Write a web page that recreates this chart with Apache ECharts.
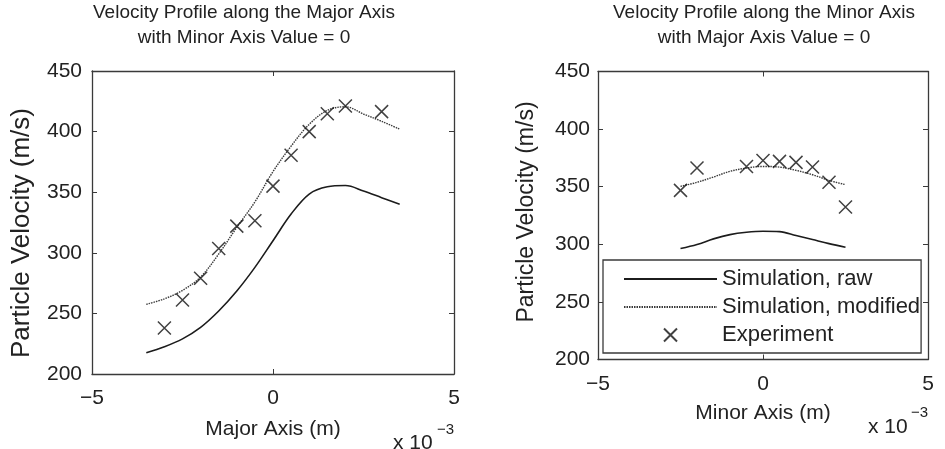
<!DOCTYPE html>
<html>
<head>
<meta charset="utf-8">
<script src="https://cdn.jsdelivr.net/npm/echarts@6/dist/echarts.min.js"></script>
<style>
  html, body { margin: 0; padding: 0; background: #fff; }
  #chart { width: 945px; height: 449px; }
</style>
</head>
<body>
<div id="chart"></div>
<script>
// Positions are in units of 10^-3 m, velocities in m/s.

// Profile along the major axis (minor axis = 0)
const majorSimPos   = [-3.5, -3, -2.5, -2, -1.5, -1, -0.5, 0, 0.5, 1, 1.5, 2, 2.5, 3, 3.5];
const majorRaw      = [217.5, 222.5, 229, 238.5, 252, 268.5, 288, 310, 332, 348.5, 354.5, 355.5, 351, 345.5, 340];
const majorModified = [257.5, 262, 269, 280, 299, 321, 342, 367, 388, 406, 417.5, 420.5, 414.5, 408.5, 402];
const majorExpPos   = [-3, -2.5, -2, -1.5, -1, -0.5, 0, 0.5, 1, 1.5, 2, 3];
const majorExp      = [238, 261, 279, 303.5, 322, 326.5, 355, 380.5, 400, 414.7, 421.2, 416.5];

// Profile along the minor axis (major axis = 0)
const minorSimPos   = [-2.5, -2, -1.5, -1, -0.5, 0, 0.5, 1, 1.5, 2, 2.5];
const minorRaw      = [296.3, 299.8, 304.7, 308.4, 310.4, 311.3, 311, 307.6, 304.1, 300.6, 297.4];
const minorModified = [350.3, 353.8, 358.4, 363.3, 366.2, 367.6, 367, 364.2, 360.4, 355.5, 351.8];
const minorExpPos   = [-2.5, -2, -0.5, 0, 0.5, 1, 1.5, 2, 2.5];
const minorExp      = [346.8, 366.2, 367.6, 372.8, 372, 371.1, 367.1, 353.8, 332.4];

// Axis ticks
const xTicks = [-5, 0, 5];
const yTicks = [200, 250, 300, 350, 400, 450];

const seriesNames = ['Simulation, raw', 'Simulation, modified', 'Experiment'];
const titles = [
  ['Velocity Profile along the Major Axis', 'with Minor Axis Value = 0'],
  ['Velocity Profile along the Minor Axis', 'with Major Axis Value = 0']
];
const xNames = ['Major Axis (m)', 'Minor Axis (m)'];
const yName = 'Particle Velocity (m/s)';

const FONT = "'Liberation Sans', Arial, Helvetica, sans-serif";
const INK = '#222';
const FRAME = '#3a3a3a';
const CROSS = 'path://M0,0L10,10M10,0L0,10';
const CLEAR = 'rgba(0,0,0,0)';

const zip = (xs, ys) => xs.map((x, i) => [x, ys[i]]);
const fmtTick = v => (v < 0 ? '\u2212' + Math.abs(v) : String(v));

function xAxisFor(grid, top) {
  return {
    type: 'value', gridIndex: grid, position: top ? 'top' : 'bottom',
    min: xTicks[0], max: xTicks[xTicks.length - 1], interval: xTicks[1] - xTicks[0],
    axisLine: { show: true, onZero: false, lineStyle: { color: FRAME, width: 1.3 } },
    axisTick: { show: true, inside: true, length: 5, lineStyle: { color: FRAME, width: 1 } },
    axisLabel: { show: !top, margin: 14, fontSize: 21, fontFamily: FONT, color: INK, formatter: fmtTick },
    splitLine: { show: false }
  };
}
function yAxisFor(grid, right, margin) {
  return {
    type: 'value', gridIndex: grid, position: right ? 'right' : 'left',
    min: yTicks[0], max: yTicks[yTicks.length - 1], interval: yTicks[1] - yTicks[0],
    axisLine: { show: true, onZero: false, lineStyle: { color: FRAME, width: 1.3 } },
    axisTick: { show: true, inside: true, length: 5, lineStyle: { color: FRAME, width: 1 } },
    axisLabel: { show: !right, margin: margin, fontSize: 21, fontFamily: FONT, color: INK },
    splitLine: { show: false }
  };
}

function profileSeries(axisIdx, pos, raw, modified, expPos, exp) {
  return [
    {
      name: seriesNames[0], type: 'line', xAxisIndex: axisIdx, yAxisIndex: axisIdx,
      data: zip(pos, raw), smooth: 0.35, symbol: 'none', silent: true,
      itemStyle: { color: '#1c1c1c' },
      lineStyle: { color: '#1c1c1c', width: 1.6, type: 'solid' }, z: 3
    },
    {
      name: seriesNames[1], type: 'line', xAxisIndex: axisIdx, yAxisIndex: axisIdx,
      data: zip(pos, modified), smooth: 0.35, symbol: 'none', silent: true,
      itemStyle: { color: '#3a3a3a' },
      lineStyle: { color: '#3a3a3a', width: 1.4, type: [1.5, 1] }, z: 3
    },
    {
      name: seriesNames[2], type: 'scatter', xAxisIndex: axisIdx, yAxisIndex: axisIdx,
      data: zip(expPos, exp), symbol: CROSS, symbolSize: 13, silent: true,
      itemStyle: { color: CLEAR, borderColor: '#111', borderWidth: 1.5 }, z: 4
    }
  ];
}

function text(x, y, str, size, opts) {
  return Object.assign({
    type: 'text', x: x, y: y, silent: true,
    style: Object.assign({
      text: str, fontSize: size, fontFamily: FONT, fill: INK,
      textAlign: 'center', textVerticalAlign: 'middle'
    }, (opts && opts.style) || {})
  }, (opts && opts.el) || {});
}

const chart = echarts.init(document.getElementById('chart'), null, { renderer: 'canvas' });

chart.setOption({
  backgroundColor: '#fff',
  animation: false,
  grid: [
    { left: 92, top: 71, width: 362, height: 303 },
    { left: 598, top: 71.5, width: 330, height: 288 }
  ],
  xAxis: [xAxisFor(0, false), xAxisFor(1, false), xAxisFor(0, true), xAxisFor(1, true)],
  yAxis: [yAxisFor(0, false, 10), yAxisFor(1, false, 8), yAxisFor(0, true), yAxisFor(1, true)],
  legend: {
    orient: 'vertical', left: 603, top: 260,
    data: [
      { name: seriesNames[0], itemStyle: { color: CLEAR, borderColor: CLEAR, borderWidth: 0 } },
      { name: seriesNames[1], itemStyle: { color: CLEAR, borderColor: CLEAR, borderWidth: 0 } },
      { name: seriesNames[2] }
    ],
    itemWidth: 93, itemHeight: 13, itemGap: 6,
    padding: [8, 1, 7, 20],
    backgroundColor: '#fff', borderColor: FRAME, borderWidth: 1.3, borderRadius: 0,
    selectedMode: false,
    textStyle: { fontSize: 22, fontFamily: FONT, color: INK }
  },
  series: [].concat(
    profileSeries(0, majorSimPos, majorRaw, majorModified, majorExpPos, majorExp),
    profileSeries(1, minorSimPos, minorRaw, minorModified, minorExpPos, minorExp)
  ),
  graphic: [
    text(244, 13, titles[0][0], 19),
    text(244, 38, titles[0][1], 19),
    text(764, 13, titles[1][0], 19),
    text(764, 38, titles[1][1], 19),
    text(273, 429, xNames[0], 21),
    text(763, 413, xNames[1], 21),
    text(22, 233, yName, 26, { el: { rotation: Math.PI / 2 } }),
    text(527, 212, yName, 23, { el: { rotation: Math.PI / 2 } }),
    text(393, 443, 'x 10', 21, { style: { textAlign: 'left' } }),
    text(437, 430, '\u22123', 15, { style: { textAlign: 'left' } }),
    text(868, 427, 'x 10', 21, { style: { textAlign: 'left' } }),
    text(911, 413, '\u22123', 15, { style: { textAlign: 'left' } })
  ]
});
</script>
</body>
</html>
